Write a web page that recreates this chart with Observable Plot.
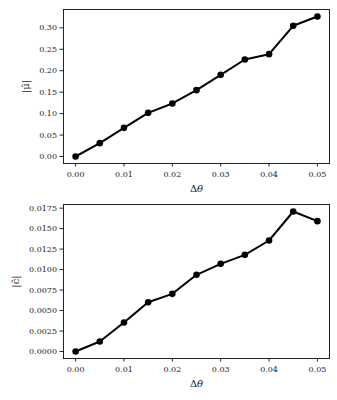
<!DOCTYPE html>
<html>
<head>
<meta charset="utf-8">
<script src="https://cdn.jsdelivr.net/npm/d3@7"></script>
<script src="https://cdn.jsdelivr.net/npm/@observablehq/plot@0.6"></script>
<style>
  html, body { margin: 0; padding: 0; background: #fff; }
  #chart svg { display: block; }
</style>
</head>
<body>
<div id="chart"></div>
<script>
const dtheta = [0, 0.005, 0.01, 0.015, 0.02, 0.025, 0.03, 0.035, 0.04, 0.045, 0.05];
const muHat = [0, 0.0311, 0.0668, 0.1018, 0.1236, 0.1547, 0.1904, 0.2262, 0.2386, 0.3047, 0.3264];
const cHat = [0, 0.00122, 0.00354, 0.00602, 0.00704, 0.00936, 0.0107, 0.0118, 0.01355, 0.01709, 0.01591];
const xTicks = [0, 0.01, 0.02, 0.03, 0.04, 0.05];
const muTicks = [0, 0.05, 0.10, 0.15, 0.20, 0.25, 0.30];
const cTicks = [0, 0.0025, 0.005, 0.0075, 0.01, 0.0125, 0.015, 0.0175];

const FONT = "'DejaVu Serif', serif";

function panel(values, yTicks, yFmt, yLabel, opts) {
  const data = dtheta.map((d, i) => ({x: d, y: values[i]}));
  const ymax = d3.max(values), ymin = d3.min(values);
  const pad = (ymax - ymin) * 0.05;
  return Plot.plot({
    width: 337,
    height: 200,
    marginLeft: 63,
    marginRight: 8,
    marginTop: opts.marginTop,
    marginBottom: opts.marginBottom,
    style: {fontFamily: FONT, fontSize: "8px", color: "#222", background: "#fff"},
    x: {domain: [-0.0025, 0.0525]},
    y: {domain: [ymin - pad, ymax + pad]},
    marks: [
      Plot.axisX({ticks: xTicks, tickFormat: d3.format(".2f"), tickSize: 3.5, tickPadding: 4,
        label: "Δθ", labelAnchor: "center", labelArrow: "none", labelOffset: 28}),
      Plot.axisY({ticks: yTicks, tickFormat: d3.format(yFmt), tickSize: 3.5, tickPadding: 3,
        label: yLabel, labelAnchor: "center", labelArrow: "none", labelOffset: opts.labelOffset}),
      Plot.frame({stroke: "#222", strokeWidth: 1}),
      Plot.line(data, {x: "x", y: "y", stroke: "#000", strokeWidth: 2}),
      Plot.dot(data, {x: "x", y: "y", r: 3.3, fill: "#000"})
    ]
  });
}

const topPanel = panel(muHat, muTicks, ".2f", "|μ̂|", {marginTop: 9, marginBottom: 37, labelOffset: 42});
const botPanel = panel(cHat, cTicks, ".4f", "|ĉ|", {marginTop: 4, marginBottom: 42, labelOffset: 52});
const chart = document.getElementById("chart");
chart.appendChild(topPanel);
chart.appendChild(botPanel);

d3.selectAll("#chart svg g[aria-label='x-axis label'] text, #chart svg g[aria-label='y-axis label'] text")
  .style("font-size", "10px").attr("fill", "#222");
d3.selectAll("#chart svg g[aria-label='x-axis label'] text").each(function() {
  const t = d3.select(this);
  t.text(null);
  t.append("tspan").text("Δ");
  t.append("tspan").style("font-style", "italic").text("θ");
});
</script>
</body>
</html>
